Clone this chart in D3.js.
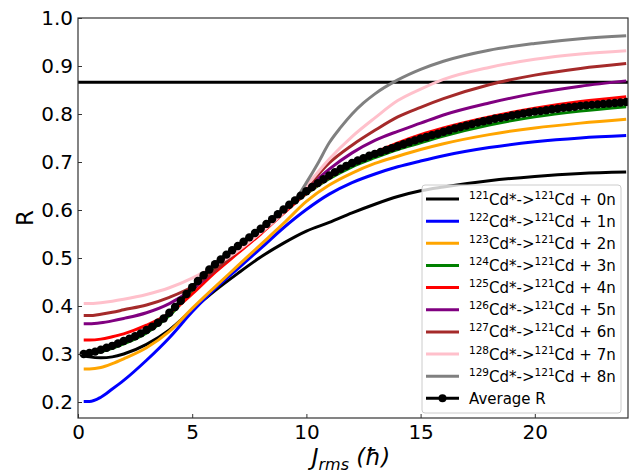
<!DOCTYPE html>
<html><head><meta charset="utf-8">
<script src="https://cdn.jsdelivr.net/npm/d3@7/dist/d3.min.js"></script>
<style>
html,body{margin:0;padding:0;background:#fff;}
svg{display:block;font-family:"DejaVu Sans",sans-serif;}
</style></head>
<body>
<svg id="chart" width="633" height="470"></svg>
<script>
// ---------- data ----------
const J = [0.25,0.5,1,1.5,2,3,4,5,6,7,8,9,10,11,12,13,14,15,16,18,20,22,24];
const R0n = [0.297,0.294,0.292,0.294,0.300,0.320,0.350,0.392,0.432,0.468,0.502,0.531,0.556,0.574,0.594,0.612,0.628,0.640,0.648,0.661,0.670,0.676,0.679];
const R1n = [0.201,0.201,0.210,0.227,0.245,0.287,0.334,0.388,0.436,0.478,0.520,0.563,0.601,0.633,0.657,0.675,0.690,0.702,0.713,0.730,0.742,0.750,0.755];
const R2n = [0.269,0.269,0.272,0.280,0.290,0.313,0.347,0.395,0.440,0.484,0.528,0.572,0.618,0.652,0.677,0.697,0.712,0.726,0.738,0.757,0.771,0.781,0.789];
const R3n = [0.299,0.301,0.305,0.312,0.321,0.344,0.380,0.432,0.482,0.520,0.556,0.596,0.634,0.665,0.690,0.709,0.726,0.740,0.754,0.777,0.794,0.806,0.815];
const R4n = [0.329,0.329,0.331,0.336,0.342,0.360,0.385,0.425,0.470,0.510,0.550,0.593,0.635,0.668,0.697,0.720,0.740,0.757,0.771,0.794,0.812,0.826,0.836];
const R5n = [0.363,0.363,0.365,0.369,0.374,0.386,0.405,0.435,0.475,0.520,0.560,0.600,0.643,0.685,0.719,0.745,0.764,0.781,0.798,0.823,0.843,0.858,0.869];
const R6n = [0.380,0.380,0.383,0.387,0.392,0.402,0.418,0.440,0.475,0.515,0.555,0.597,0.646,0.698,0.735,0.766,0.794,0.814,0.832,0.861,0.881,0.895,0.905];
const R7n = [0.405,0.405,0.407,0.410,0.414,0.424,0.438,0.458,0.484,0.515,0.553,0.595,0.650,0.706,0.753,0.792,0.828,0.852,0.872,0.897,0.914,0.925,0.932];
const J8n = [0.25,1,2,3,4,5,6,7,8,9,9.6,10,10.5,11,11.5,12,12.5,13,14,15,16,18,20,22,24];
const R8n = [0.300,0.309,0.327,0.350,0.386,0.439,0.487,0.525,0.561,0.601,0.627,0.657,0.697,0.740,0.772,0.800,0.823,0.842,0.871,0.893,0.910,0.933,0.947,0.957,0.963];

// Average R (dense, one marker per point), J from 0.25 to 24 step 0.25
const Javg = d3.range(1, 97).map(i => i * 0.25);
const Ravg = [
0.300,0.302,0.305,0.309,0.313,0.317,0.322,0.327,0.332,0.337,0.343,0.350,0.357,0.365,0.374,0.386,
0.398,0.411,0.425,0.439,0.452,0.464,0.476,0.487,0.497,0.507,0.516,0.525,0.534,0.543,0.552,0.561,
0.571,0.581,0.591,0.601,0.611,0.620,0.630,0.639,0.648,0.656,0.664,0.672,0.679,0.686,0.692,0.698,
0.703,0.708,0.713,0.717,0.721,0.725,0.729,0.733,0.737,0.741,0.745,0.749,0.752,0.756,0.759,0.763,
0.766,0.770,0.773,0.776,0.779,0.782,0.785,0.787,0.790,0.792,0.794,0.797,0.799,0.801,0.803,0.805,
0.806,0.808,0.810,0.811,0.813,0.814,0.815,0.817,0.818,0.819,0.820,0.821,0.822,0.823,0.824,0.825];

const refLine = 0.866;
const xTicks = [0,5,10,15,20];
const yTicks = [0.2,0.3,0.4,0.5,0.6,0.7,0.8,0.9,1.0];

const massNums = [121,122,123,124,125,126,127,128,129];
const neutrons = [0,1,2,3,4,5,6,7,8];
const colors = ["black","blue","orange","green","red","purple","brown","pink","gray"];
const seriesVals = [R0n,R1n,R2n,R3n,R4n,R5n,R6n,R7n,R8n];
const seriesJ = [J,J,J,J,J,J,J,J,J8n];

// ---------- layout ----------
const svg = d3.select("#chart");
const L = 78, Rr = 628, T = 18, B = 418;
const x = d3.scaleLinear().domain([0, 24.08]).range([L, Rr]);
const y = d3.scaleLinear().domain([0.16667, 1.0]).range([B, T]);

svg.append("defs").append("clipPath").attr("id","clip")
  .append("rect").attr("x",L).attr("y",T).attr("width",Rr-L).attr("height",B-T);

const plot = svg.append("g").attr("clip-path","url(#clip)");

// reference line
plot.append("line").attr("x1",x(0)).attr("x2",x(24.08))
  .attr("y1",y(refLine)).attr("y2",y(refLine))
  .attr("stroke","black").attr("stroke-width",3);

const line = d3.line().curve(d3.curveMonotoneX).x(d=>x(d[0])).y(d=>y(d[1]));

seriesVals.forEach((vals,i)=>{
  const pts = seriesJ[i].map((j,k)=>[j, vals[k]]);
  plot.append("path").attr("d", line(pts)).attr("fill","none")
    .attr("stroke", colors[i]).attr("stroke-width",3);
});

// average
const avgPts = Javg.map((j,k)=>[j, Ravg[k]]);
plot.append("path").attr("d", line(avgPts)).attr("fill","none")
  .attr("stroke","black").attr("stroke-width",4);
plot.selectAll("circle.avg").data(avgPts).enter().append("circle")
  .attr("cx",d=>x(d[0])).attr("cy",d=>y(d[1])).attr("r",4.2).attr("fill","black");

// axes
const xAxis = d3.axisBottom(x).tickValues(xTicks).tickSize(-4).tickPadding(7).tickFormat(d3.format("d"));
const yAxis = d3.axisLeft(y).tickValues(yTicks).tickSize(-4).tickPadding(5).tickFormat(d3.format(".1f"));
const gx = svg.append("g").attr("transform",`translate(0,${B})`).call(xAxis);
const gy = svg.append("g").attr("transform",`translate(${L},0)`).call(yAxis);
[gx,gy].forEach(g=>{
  g.select(".domain").remove();
  g.selectAll(".tick line").attr("stroke","#333").attr("stroke-width",1);
  g.selectAll(".tick text").attr("font-size",20).attr("fill","black").attr("font-family","DejaVu Sans");
});
gx.selectAll(".tick text").attr("dy","0.71em");

// frame
svg.append("rect").attr("x",L).attr("y",T).attr("width",Rr-L).attr("height",B-T)
  .attr("fill","none").attr("stroke","#333").attr("stroke-width",1.2);

// axis labels
svg.append("text").attr("transform",`translate(33,${(T+B)/2}) rotate(-90)`)
  .attr("text-anchor","middle").attr("font-size",23).text("R");
const xl = svg.append("text").attr("x",(L+Rr)/2 - 2).attr("y",465)
  .attr("text-anchor","middle").attr("font-size",23).attr("font-style","italic");
xl.append("tspan").text("J");
xl.append("tspan").attr("font-size",16).attr("dy",5).text("rms");
xl.append("tspan").attr("dy",-5).text(" (ħ)");

// legend
const lg = svg.append("g");
const lx = 422, ly = 185, lw = 199, lh = 228;
lg.append("rect").attr("x",lx).attr("y",ly).attr("width",lw).attr("height",lh)
  .attr("rx",3).attr("fill","white").attr("fill-opacity",0.8)
  .attr("stroke","#ccc").attr("stroke-width",1);
const rowH = 22.15, row0 = 199;
massNums.forEach((m,i)=>{
  const yy = row0 + i*rowH;
  lg.append("line").attr("x1",426).attr("x2",459).attr("y1",yy).attr("y2",yy)
    .attr("stroke",colors[i]).attr("stroke-width",3);
  const t = lg.append("text").attr("x",469).attr("y",yy+5.5).attr("font-size",15);
  t.append("tspan").attr("font-size",10.5).attr("dy",-6).text(m);
  t.append("tspan").attr("dy",6).text("Cd*->");
  t.append("tspan").attr("font-size",10.5).attr("dy",-6).text("121");
  t.append("tspan").attr("dy",6).text("Cd + " + neutrons[i] + "n");
});
{
  const yy = row0 + 9*rowH;
  lg.append("line").attr("x1",426).attr("x2",459).attr("y1",yy).attr("y2",yy)
    .attr("stroke","black").attr("stroke-width",3);
  lg.append("circle").attr("cx",442.5).attr("cy",yy).attr("r",4).attr("fill","black");
  lg.append("text").attr("x",469).attr("y",yy+5.5).attr("font-size",15).text("Average R");
}
</script>
</body></html>
